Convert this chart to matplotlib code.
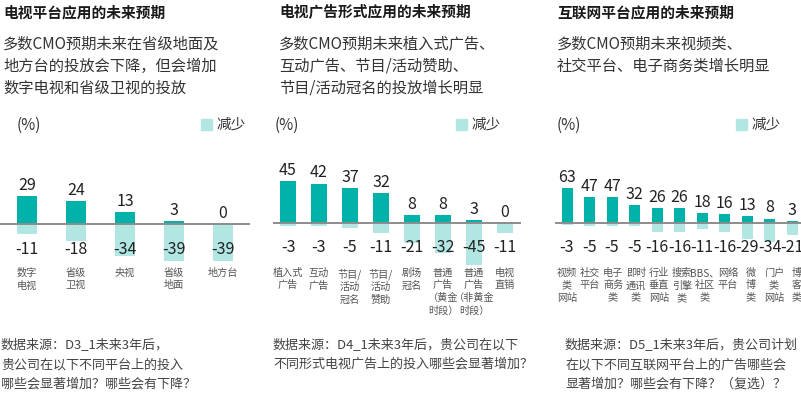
import matplotlib
matplotlib.use("Agg")
from matplotlib import pyplot as plt
from matplotlib.patches import Rectangle
import numpy as np

plt.rcParams['font.family'] = ['Noto Sans CJK SC', 'DejaVu Sans']

# ---- data ----
tv_platform_labels = ['数字\n电视', '省级\n卫视', '央视', '省级\n地面', '地方台']
tv_platform_up = [29, 24, 13, 3, 0]
tv_platform_down = [-11, -18, -34, -39, -39]

tv_ad_labels = ['植入式\n广告', '互动\n广告', '节目/\n活动\n冠名', '节目/\n活动\n赞助', '剧场\n冠名',
                '普通\n广告\n（黄金\n时段）', '普通\n广告\n（非黄金\n时段）', '电视\n直销']
tv_ad_up = [45, 42, 37, 32, 8, 8, 3, 0]
tv_ad_down = [-3, -3, -5, -11, -21, -32, -45, -11]

net_labels = ['视频\n类\n网站', '社交\n平台', '电子\n商务\n类', '即时\n通讯\n类', '行业\n垂直\n网站', '搜索\n引擎\n类',
              'BBS、\n社区\n类', '网络\n平台', '微\n博\n类', '门户\n类\n网站', '博\n客\n类']
net_up = [63, 47, 47, 32, 26, 26, 18, 16, 13, 8, 3]
net_down = [-3, -5, -5, -5, -16, -16, -11, -16, -29, -34, -21]

titles = ['电视平台应用的未来预期', '电视广告形式应用的未来预期', '互联网平台应用的未来预期']
subtitles = [
    ['多数CMO预期未来在省级地面及', '地方台的投放会下降，但会增加', '数字电视和省级卫视的投放'],
    ['多数CMO预期未来植入式广告、', '互动广告、节目/活动赞助、', '节目/活动冠名的投放增长明显'],
    ['多数CMO预期未来视频类、', '社交平台、电子商务类增长明显'],
]
sources = [
    ['数据来源：D3_1未来3年后，', '贵公司在以下不同平台上的投入', '哪些会显著增加？哪些会有下降？'],
    ['数据来源：D4_1未来3年后，贵公司在以下', '不同形式电视广告上的投入哪些会显著增加？'],
    ['数据来源：D5_1未来3年后，贵公司计划', '在以下不同互联网平台上的广告哪些会', '显著增加？哪些会有下降？（复选）？'],
]

TEAL = '#00B2A9'
LIGHT = '#B2E6E2'
W, H = 801, 399

fig = plt.figure(figsize=(W / 100, H / 100), dpi=100)


def fx(px):
    return px / W


def fy(py):
    return 1 - py / H


def panel(labels, up, down, left, right, c0, step, bw, base, ppu, lab_step=None):
    # axes placed in pixel terms so every panel keeps its own bar scale
    top_px, bot_px = 150, 330
    ax = fig.add_axes([fx(left), fy(bot_px), (right - left) / W, (bot_px - top_px) / H])
    ax.set_xlim((left - c0) / step, (right - c0) / step)
    ax.set_ylim((base - bot_px) / ppu, (base - top_px) / ppu)
    ax.axis('off')
    x = np.arange(len(labels))
    w = bw / step
    lx = x if lab_step is None else x * lab_step / step
    ax.bar(x, down, width=w, color=LIGHT, zorder=1)
    ax.bar(x, up, width=w, color=TEAL, zorder=2)
    ax.axhline(0, color='#8C8C8C', lw=1.4, zorder=3)
    for xi, li, u, d, lab in zip(x, lx, up, down, labels):
        ax.annotate(str(u), (xi, u), xytext=(0, 1.5), textcoords='offset points',
                    ha='center', va='bottom', fontsize=11.5, color='#222222')
        ax.text(xi, -25 / ppu, str(d), ha='center', va='center', fontsize=11.5, color='#222222',
                zorder=4)
        ax.text(li, (base - 268) / ppu, lab, ha='center', va='top', fontsize=7.3,
                color='#555555', linespacing=1.3)
    return ax


panel(tv_platform_labels, tv_platform_up, tv_platform_down, 0, 250, 27, 49, 20, 224, 0.95)
panel(tv_ad_labels, tv_ad_up, tv_ad_down, 273, 521, 288, 31, 16, 223, 0.94)
panel(net_labels, net_up, net_down, 555, 830, 567, 22.5, 11, 223, 0.56, lab_step=23)

# headers, legends and footers
title_x = [3, 279, 557]
pct_x = [17, 275, 557]
leg_x = [201, 456, 736]
src_x = [1, 273, 565]
for i in range(3):
    fig.text(fx(title_x[i]), fy(12), titles[i], fontsize=10.6, fontweight='bold',
             color='#1A1A1A', va='center', ha='left')
    for j, line in enumerate(subtitles[i]):
        fig.text(fx(title_x[i]), fy(44 + 22 * j), line, fontsize=11, color='#333333',
                 va='center', ha='left')
    fig.text(fx(pct_x[i]), fy(125), '(%)', fontsize=11, color='#333333', va='center', ha='left')
    fig.add_artist(Rectangle((fx(leg_x[i]), fy(130)), 11 / W, 11 / H,
                             transform=fig.transFigure, color=LIGHT))
    fig.text(fx(leg_x[i] + 15), fy(124.5), '减少', fontsize=10.5, color='#333333',
             va='center', ha='left')
    for j, line in enumerate(sources[i]):
        fig.text(fx(src_x[i]), fy(345 + 19.5 * j), line, fontsize=9.4, color='#444444',
                 va='center', ha='left')

fig.savefig('out.png', dpi=100)
